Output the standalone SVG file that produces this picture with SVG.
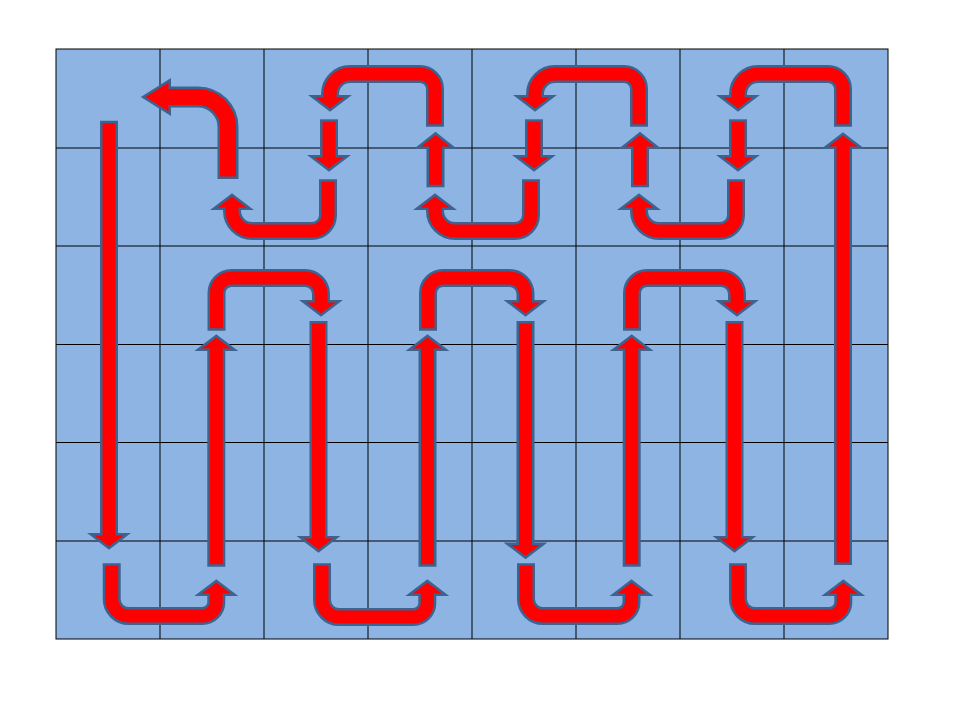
<svg xmlns="http://www.w3.org/2000/svg" width="960" height="720" viewBox="0 0 960 720">
<style>
.o{fill:none;stroke:#3D6391;stroke-width:18;stroke-linejoin:round}
.i{fill:none;stroke:#FF0000;stroke-width:13}
.o2{fill:none;stroke:#3D6391;stroke-width:21;stroke-linejoin:round}
.i2{fill:none;stroke:#FF0000;stroke-width:16}
.ho{fill:#3D6391;stroke:#3D6391;stroke-width:5;stroke-linejoin:miter}
.hi{fill:#FF0000}
.g{stroke:#000;stroke-width:1;fill:none}
</style>
<rect width="960" height="720" fill="#fff"/>
<g id="grid">
<rect x="56" y="49" width="832" height="590" fill="#8DB4E2" stroke="#000" stroke-width="1"/>
<path class="g" d="M160,49V639M264,49V639M368,49V639M472,49V639M576,49V639M680,49V639M784,49V639M56,148H888M56,246H888M56,344.5H888M56,442.5H888M56,541H888"/>
</g>
<g id="connectors">
<g id="start-bend">
<path class="o2" d="M228,179V127A30,30 0 0 0 198,97H168.5"/>
<polygon class="ho" points="168.5,82.5 168.5,111.5 145.5,97"/>
<path class="i2" d="M228,176.5V127A30,30 0 0 0 198,97H168"/>
<polygon class="hi" points="168.5,82.5 168.5,111.5 145.5,97"/>
</g>
<g id="top-u1">
<path class="o" d="M435,126.7V89A15,15 0 0 0 420,74H350A20,20 0 0 0 330,94V97.5"/>
<polygon class="ho" points="315.5,97.5 344.5,97.5 330,108.5"/>
<path class="i" d="M435,124.2V89A15,15 0 0 0 420,74H350A20,20 0 0 0 330,94V98"/>
<polygon class="hi" points="315.5,97.5 344.5,97.5 330,108.5"/>
</g>
<g id="top-u2">
<path class="o" d="M639,126.7V89A15,15 0 0 0 624,74H555A20,20 0 0 0 535,94V97.5"/>
<polygon class="ho" points="520.5,97.5 549.5,97.5 535,108.5"/>
<path class="i" d="M639,124.2V89A15,15 0 0 0 624,74H555A20,20 0 0 0 535,94V98"/>
<polygon class="hi" points="520.5,97.5 549.5,97.5 535,108.5"/>
</g>
<g id="top-u3">
<path class="o" d="M843,126.7V89A15,15 0 0 0 828,74H758A20,20 0 0 0 738,94V97.5"/>
<polygon class="ho" points="723.5,97.5 752.5,97.5 738,108.5"/>
<path class="i" d="M843,124.2V89A15,15 0 0 0 828,74H758A20,20 0 0 0 738,94V98"/>
<polygon class="hi" points="723.5,97.5 752.5,97.5 738,108.5"/>
</g>
<g id="small-down1">
<path class="o" d="M329,119.3V157.5"/>
<polygon class="ho" points="314.5,157.5 343.5,157.5 329,168.5"/>
<path class="i" d="M329,121.8V158"/>
<polygon class="hi" points="314.5,157.5 343.5,157.5 329,168.5"/>
</g>
<g id="small-down2">
<path class="o" d="M534,119.3V157.5"/>
<polygon class="ho" points="519.5,157.5 548.5,157.5 534,168.5"/>
<path class="i" d="M534,121.8V158"/>
<polygon class="hi" points="519.5,157.5 548.5,157.5 534,168.5"/>
</g>
<g id="small-down3">
<path class="o" d="M738,119.3V157.5"/>
<polygon class="ho" points="723.5,157.5 752.5,157.5 738,168.5"/>
<path class="i" d="M738,121.8V158"/>
<polygon class="hi" points="723.5,157.5 752.5,157.5 738,168.5"/>
</g>
<g id="small-up1">
<path class="o" d="M435.5,187.3V146.5"/>
<polygon class="ho" points="421,146.5 450,146.5 435.5,135"/>
<path class="i" d="M435.5,184.8V146"/>
<polygon class="hi" points="421,146.5 450,146.5 435.5,135"/>
</g>
<g id="small-up2">
<path class="o" d="M640,187.3V146.5"/>
<polygon class="ho" points="625.5,146.5 654.5,146.5 640,135"/>
<path class="i" d="M640,184.8V146"/>
<polygon class="hi" points="625.5,146.5 654.5,146.5 640,135"/>
</g>
<g id="low-u1">
<path class="o" d="M328,179.3V215A16,16 0 0 1 312,231H252A20,20 0 0 1 232,211V207.5"/>
<polygon class="ho" points="217.5,207.5 246.5,207.5 232,196.5"/>
<path class="i" d="M328,181.8V215A16,16 0 0 1 312,231H252A20,20 0 0 1 232,211V207"/>
<polygon class="hi" points="217.5,207.5 246.5,207.5 232,196.5"/>
</g>
<g id="low-u2">
<path class="o" d="M531,179.3V215A16,16 0 0 1 515,231H455A20,20 0 0 1 435,211V207.5"/>
<polygon class="ho" points="420.5,207.5 449.5,207.5 435,196.5"/>
<path class="i" d="M531,181.8V215A16,16 0 0 1 515,231H455A20,20 0 0 1 435,211V207"/>
<polygon class="hi" points="420.5,207.5 449.5,207.5 435,196.5"/>
</g>
<g id="low-u3">
<path class="o" d="M736,179.3V215A16,16 0 0 1 720,231H659A20,20 0 0 1 639,211V207.5"/>
<polygon class="ho" points="624.5,207.5 653.5,207.5 639,196.5"/>
<path class="i" d="M736,181.8V215A16,16 0 0 1 720,231H659A20,20 0 0 1 639,211V207"/>
<polygon class="hi" points="624.5,207.5 653.5,207.5 639,196.5"/>
</g>
<g id="long-down0">
<path class="o" d="M109,120.7V535.5"/>
<polygon class="ho" points="94.5,535.5 123.5,535.5 109,546.5"/>
<path class="i" d="M109,123.2V536"/>
<polygon class="hi" points="94.5,535.5 123.5,535.5 109,546.5"/>
</g>
<g id="long-up-end">
<path class="o" d="M843,565V146.5"/>
<polygon class="ho" points="828.5,146.5 857.5,146.5 843,135.5"/>
<path class="i" d="M843,562.5V146"/>
<polygon class="hi" points="828.5,146.5 857.5,146.5 843,135.5"/>
</g>
<g id="mid-u1">
<path class="o" d="M216.5,330.7V293A15,15 0 0 1 231.5,278H305A16,16 0 0 1 321,294V302.5"/>
<polygon class="ho" points="306.5,302.5 335.5,302.5 321,313.5"/>
<path class="i" d="M216.5,328.2V293A15,15 0 0 1 231.5,278H305A16,16 0 0 1 321,294V303"/>
<polygon class="hi" points="306.5,302.5 335.5,302.5 321,313.5"/>
</g>
<g id="mid-u2">
<path class="o" d="M428,330.7V293A15,15 0 0 1 443,278H509.5A16,16 0 0 1 525.5,294V302.5"/>
<polygon class="ho" points="511,302.5 540,302.5 525.5,313.5"/>
<path class="i" d="M428,328.2V293A15,15 0 0 1 443,278H509.5A16,16 0 0 1 525.5,294V303"/>
<polygon class="hi" points="511,302.5 540,302.5 525.5,313.5"/>
</g>
<g id="mid-u3">
<path class="o" d="M632,330.7V293A15,15 0 0 1 647,278H721A16,16 0 0 1 737,294V302.5"/>
<polygon class="ho" points="722.5,302.5 751.5,302.5 737,313.5"/>
<path class="i" d="M632,328.2V293A15,15 0 0 1 647,278H721A16,16 0 0 1 737,294V303"/>
<polygon class="hi" points="722.5,302.5 751.5,302.5 737,313.5"/>
</g>
<g id="long-up1">
<path class="o" d="M216.3,566.7V348.5"/>
<polygon class="ho" points="201.8,348.5 230.8,348.5 216.3,337.5"/>
<path class="i" d="M216.3,564.2V348"/>
<polygon class="hi" points="201.8,348.5 230.8,348.5 216.3,337.5"/>
</g>
<g id="long-up2">
<path class="o" d="M427.5,566.7V348.5"/>
<polygon class="ho" points="413,348.5 442,348.5 427.5,337.5"/>
<path class="i" d="M427.5,564.2V348"/>
<polygon class="hi" points="413,348.5 442,348.5 427.5,337.5"/>
</g>
<g id="long-up3">
<path class="o" d="M631.7,566.7V348.5"/>
<polygon class="ho" points="617.2,348.5 646.2,348.5 631.7,337.5"/>
<path class="i" d="M631.7,564.2V348"/>
<polygon class="hi" points="617.2,348.5 646.2,348.5 631.7,337.5"/>
</g>
<g id="long-down1">
<path class="o" d="M318.5,321V538.5"/>
<polygon class="ho" points="304,538.5 333,538.5 318.5,549.5"/>
<path class="i" d="M318.5,323.5V539"/>
<polygon class="hi" points="304,538.5 333,538.5 318.5,549.5"/>
</g>
<g id="long-down2">
<path class="o" d="M525.5,321V545"/>
<polygon class="ho" points="511,545 540,545 525.5,556"/>
<path class="i" d="M525.5,323.5V545.5"/>
<polygon class="hi" points="511,545 540,545 525.5,556"/>
</g>
<g id="long-down3">
<path class="o" d="M734.5,321V538.5"/>
<polygon class="ho" points="720,538.5 749,538.5 734.5,549.5"/>
<path class="i" d="M734.5,323.5V539"/>
<polygon class="hi" points="720,538.5 749,538.5 734.5,549.5"/>
</g>
<g id="bottom-u1">
<path class="o" d="M111.7,563.3V599A17,17 0 0 0 128.7,616H202.3A14,14 0 0 0 216.3,602V593.5"/>
<polygon class="ho" points="201.8,593.5 230.8,593.5 216.3,582.5"/>
<path class="i" d="M111.7,565.8V599A17,17 0 0 0 128.7,616H202.3A14,14 0 0 0 216.3,602V593"/>
<polygon class="hi" points="201.8,593.5 230.8,593.5 216.3,582.5"/>
</g>
<g id="bottom-u2">
<path class="o" d="M322,563.3V600A17,17 0 0 0 339,617H413.3A14,14 0 0 0 427.3,603V593.5"/>
<polygon class="ho" points="412.8,593.5 441.8,593.5 427.3,582.5"/>
<path class="i" d="M322,565.8V600A17,17 0 0 0 339,617H413.3A14,14 0 0 0 427.3,603V593"/>
<polygon class="hi" points="412.8,593.5 441.8,593.5 427.3,582.5"/>
</g>
<g id="bottom-u3">
<path class="o" d="M526,563.3V599A17,17 0 0 0 543,616H617.5A14,14 0 0 0 631.5,602V593.5"/>
<polygon class="ho" points="617,593.5 646,593.5 631.5,582.5"/>
<path class="i" d="M526,565.8V599A17,17 0 0 0 543,616H617.5A14,14 0 0 0 631.5,602V593"/>
<polygon class="hi" points="617,593.5 646,593.5 631.5,582.5"/>
</g>
<g id="bottom-u4">
<path class="o" d="M738,563.3V599A17,17 0 0 0 755,616H829.3A14,14 0 0 0 843.3,602V593.5"/>
<polygon class="ho" points="828.8,593.5 857.8,593.5 843.3,582.5"/>
<path class="i" d="M738,565.8V599A17,17 0 0 0 755,616H829.3A14,14 0 0 0 843.3,602V593"/>
<polygon class="hi" points="828.8,593.5 857.8,593.5 843.3,582.5"/>
</g>
</g>
</svg>
